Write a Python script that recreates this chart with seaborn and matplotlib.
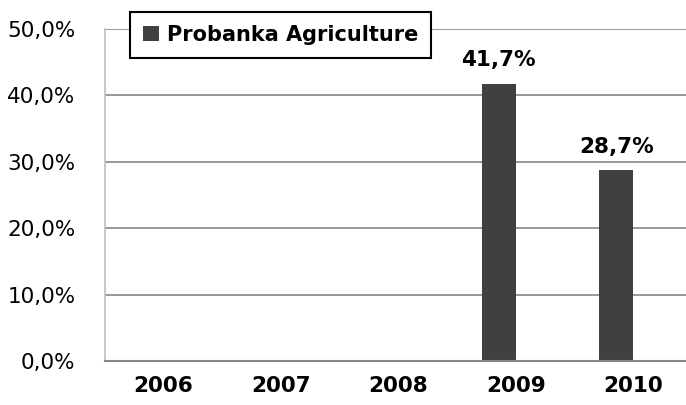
import matplotlib
matplotlib.use('Agg')
import matplotlib.pyplot as plt
import pandas as pd
import seaborn as sns
from matplotlib.ticker import FuncFormatter

# Data (Excel style, 2nd series is empty but takes bar space)
years = ['2006', '2007', '2008', '2009', '2010']
probanka = [0, 0, 0, 41.7, 28.7]
hidden = [0, 0, 0, 0, 0]
series_name = 'Probanka Agriculture'

sns.set_style('white')
plt.rcParams['font.family'] = ['DejaVu Sans']
plt.rcParams['text.color'] = 'black'
plt.rcParams['xtick.color'] = 'black'
plt.rcParams['ytick.color'] = 'black'

df = pd.DataFrame({
    'year': years * 2,
    'series': [series_name] * len(years) + ['_hidden'] * len(years),
    'value': probanka + hidden,
})

fig = plt.figure(figsize=(6.86, 4.05), dpi=100)
ax = fig.add_axes([104.5 / 686, 44 / 405, 587.5 / 686, 332 / 405])

sns.barplot(data=df, x='year', y='value', hue='series',
            palette=['#404040', '#ffffff'], saturation=1,
            width=0.58, gap=0, legend=False, linewidth=0, ax=ax)

ax.set_ylim(0, 50)
ax.set_xlim(-0.5, len(years) - 0.5)
ax.set_xlabel('')
ax.set_ylabel('')

# gridlines + axes
ax.set_yticks([0, 10, 20, 30, 40, 50])
ax.yaxis.grid(True, color='#868686', lw=1.2)
ax.set_axisbelow(True)
ax.yaxis.set_major_formatter(FuncFormatter(lambda v, p: f'{v:.1f}%'.replace('.', ',')))
for s in ['top', 'right']:
    ax.spines[s].set_visible(False)
ax.spines['left'].set_color('#bfbfbf')
ax.spines['left'].set_linewidth(1.2)
ax.spines['bottom'].set_color('#868686')
ax.spines['bottom'].set_linewidth(1.5)

ax.tick_params(axis='y', length=8, color='#bfbfbf', labelcolor='black', width=1.2, pad=13, labelsize=15.5)
ax.set_xticks([i - 0.5 for i in range(len(years) + 1)], minor=True)
ax.tick_params(axis='x', which='minor', length=7, color='#868686', width=1.5)
ax.tick_params(axis='x', which='major', length=0, pad=11, labelsize=15.5, labelcolor='black')
for lab in ax.get_xticklabels():
    lab.set_fontweight('bold')

# value labels
labels = [f'{v:.1f}%'.replace('.', ',') if v else '' for v in probanka]
ax.bar_label(ax.containers[0], labels=labels, padding=10,
             fontsize=15.5, fontweight='bold', color='black')

# legend
leg = ax.legend(handles=[ax.containers[0].patches[3]], labels=[series_name],
                loc='upper left', bbox_to_anchor=(130 / 686, 1 - 12 / 405),
                bbox_transform=fig.transFigure, borderaxespad=0,
                fancybox=False, framealpha=1, edgecolor='black',
                handlelength=0.75, handleheight=0.75, handletextpad=0.4,
                borderpad=0.62, prop={'weight': 'bold', 'size': 15})
leg.get_frame().set_linewidth(1.5)
for t in leg.get_texts():
    t.set_color('black')

fig.savefig('out.png', dpi=100)
